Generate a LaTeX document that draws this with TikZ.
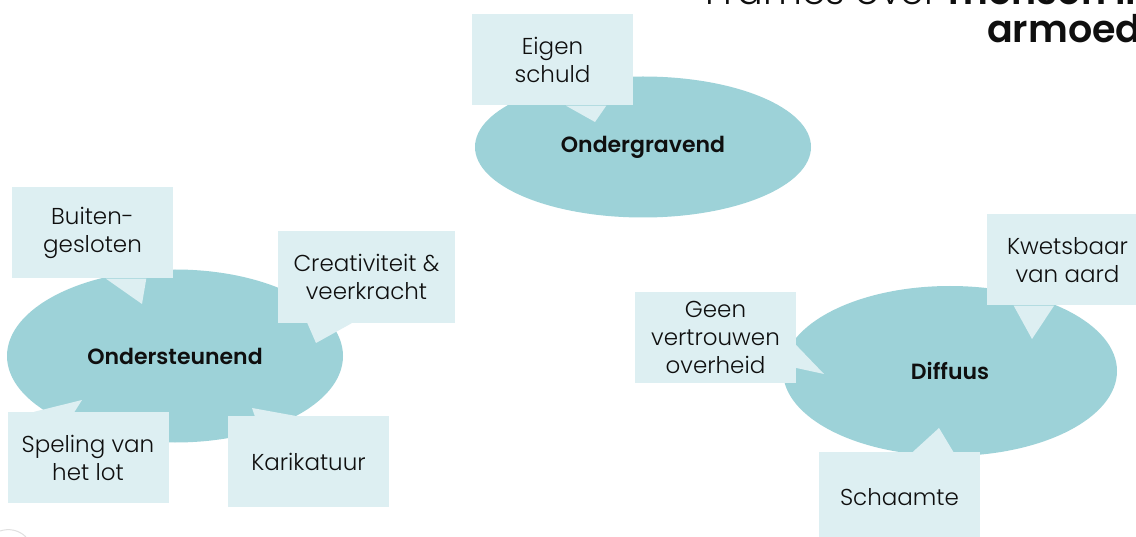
\documentclass[tikz,border=0pt]{standalone}
\usepackage{fontspec}
\setmainfont{Poppins}[UprightFont={* Light}, BoldFont={* SemiBold}]
\usetikzlibrary{shapes.geometric,calc}
\definecolor{ellfill}{RGB}{157,210,216}
\definecolor{boxfill}{RGB}{221,239,242}
\definecolor{inkcol}{RGB}{15,15,15}
\begin{document}
\begin{tikzpicture}[x=1pt,y=-1pt,
  frameell/.style={ellipse, fill=ellfill, inner sep=0pt, text=inkcol,
    font=\fontsize{22}{26}\selectfont\bfseries},
  callbox/.style={rectangle, fill=boxfill, inner sep=0pt, minimum width=161pt,
    minimum height=91pt, align=center, text=inkcol,
    font=\fontsize{23}{28}\selectfont},
  wedge/.style={fill=boxfill},
  titletext/.style={inner sep=0pt, text=inkcol, font=\fontsize{38}{44}\selectfont}]
\useasboundingbox (0,0) rectangle (1136,537);
\fill[white] (0,0) rectangle (1136,537);
\clip (0,0) rectangle (1136,537);

% title (cut off by the slide edge)
\node[titletext, anchor=base west] (t1) at (705,5) {Frames over \textbf{mensen in}};
\node[titletext, anchor=base west] (t2) at (987,43) {\textbf{armoede}};

% frames
\node[frameell, minimum width=336pt, minimum height=141pt] (onderg) at (643,147) {Ondergravend};
\node[frameell, minimum width=336pt, minimum height=173pt] (onderst) at (175,356) {Ondersteunend};
\node[frameell, minimum width=334pt, minimum height=170pt] (diff) at (950,371) {Diffuus};

% callout boxes
\node[callbox] (eigen) at (552.5,60) {Eigen\\schuld};
\node[callbox] (buiten) at (92.5,233) {Buiten-\\gesloten};
\node[callbox, minimum width=177pt, minimum height=92pt] (creat) at (366.5,277) {Creativiteit \&\\veerkracht};
\node[callbox] (speling) at (88,457.5) {Speling van\\het lot};
\node[callbox] (karik) at (308.5,461.5) {Karikatuur};
\node[callbox] (kwets) at (1067.5,260) {Kwetsbaar\\van aard};
\node[callbox] (geen) at (715.5,337.5) {Geen\\vertrouwen\\overheid};
\node[callbox] (schaam) at (899.5,497.5) {Schaamte};

% pointer tips
\coordinate (peigen) at (595,122);
\coordinate (pbuiten) at (142,304);
\coordinate (pcreat) at (316,343);
\coordinate (pspeling) at (82,400);
\coordinate (pkarik) at (252,408);
\coordinate (pkwets) at (1032,339);
\coordinate (pgeen) at (824,374);
\coordinate (pschaam) at (939,428);

% pointers
\fill[wedge] ($(eigen.south west)!7/12!(eigen.south east)$) -- (peigen) -- ($(eigen.south west)!10/12!(eigen.south east)$) -- cycle;
\fill[wedge] ($(buiten.south west)!7/12!(buiten.south east)$) -- (pbuiten) -- ($(buiten.south west)!10/12!(buiten.south east)$) -- cycle;
\fill[wedge] ($(creat.south west)!2/12!(creat.south east)$) -- (pcreat) -- ($(creat.south west)!5/12!(creat.south east)$) -- cycle;
\fill[wedge] ($(speling.north west)!2/12!(speling.north east)$) -- (pspeling) -- ($(speling.north west)!5/12!(speling.north east)$) -- cycle;
\fill[wedge] ($(karik.north west)!2/12!(karik.north east)$) -- (pkarik) -- ($(karik.north west)!5/12!(karik.north east)$) -- cycle;
\fill[wedge] ($(kwets.south west)!2/12!(kwets.south east)$) -- (pkwets) -- ($(kwets.south west)!5/12!(kwets.south east)$) -- cycle;
\fill[wedge] ($(geen.north east)!7/12!(geen.south east)$) -- (pgeen) -- ($(geen.north east)!10/12!(geen.south east)$) -- cycle;
\fill[wedge] ($(schaam.north west)!7/12!(schaam.north east)$) -- (pschaam) -- ($(schaam.north west)!10/12!(schaam.north east)$) -- cycle;

% faint arc at the lower left
\draw[black!12, line width=1pt] (0,531) .. controls (9,528) and (19,530) .. (26,537);
\end{tikzpicture}
\end{document}
